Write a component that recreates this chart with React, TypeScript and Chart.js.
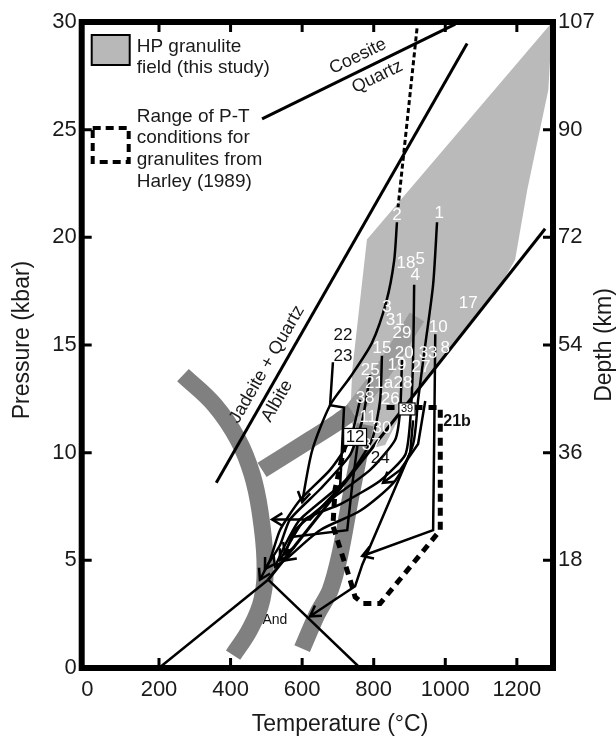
import React, { useEffect, useRef } from "react";
import { Chart, registerables } from "chart.js";

Chart.register(...registerables);

const FF = "'Liberation Sans', Arial, Helvetica, sans-serif";

// ---- axes ----
const xTicks = [0, 200, 400, 600, 800, 1000, 1200];
const pTicks = [0, 5, 10, 15, 20, 25, 30];
const depthTicks = [5, 10, 15, 20, 25, 30];
const depthLabels = ["18", "36", "54", "72", "90", "107"];

// ---- HP granulite field (T °C, P kbar) ----
const fieldT = [781, 1299, 1288, 1229, 1195, 1155, 902, 870, 832, 776, 734, 740, 762, 781];
const fieldP = [19.9, 30, 26.85, 22.2, 18.95, 17.8, 12.45, 11.6, 10.36, 10.13, 11.52, 13.84, 17.09, 19.9];

// ---- dark grey bands ----
const bandLT = [267, 356, 421, 460, 482, 496, 488, 454, 407];
const bandLP = [13.6, 12.2, 10.6, 9.0, 7.3, 5.0, 3.2, 1.8, 0.6];
const bandBT = [488, 622, 698, 740];
const bandBP = [9.2, 10.6, 11.4, 11.9];
const bandB2T = [740, 826, 921];
const bandB2P = [11.9, 13.8, 16.3];
const bandRT = [776, 734, 706, 678, 642, 600];
const bandRP = [11.3, 7.8, 5.3, 3.6, 2.5, 0.9];

// ---- reaction lines ----
const coesiteT = [488, 1028];
const coesiteP = [25.5, 29.9];
const jadeiteT = [360, 1061];
const jadeiteP = [8.6, 29.0];
const kyAndT = [200, 505];
const kyAndP = [0, 4.1];
const andSilT = [505, 762];
const andSilP = [4.1, 0];
const kySilT = [505, 1279];
const kySilP = [4.1, 20.4];
const dashTopT = [921, 868];
const dashTopP = [29.7, 21.4];

// ---- P-T paths ----
const path1T = [977, 966, 944, 924, 910, 860, 762, 650, 552];
const path1P = [20.7, 17.8, 15.0, 12.45, 10.4, 8.7, 7.3, 6.4, 5.0];
const path2T = [865, 857, 835, 795, 734, 678, 628, 600];
const path2P = [20.7, 18.9, 17.0, 15.1, 13.5, 12.2, 10.1, 7.7];
const path23T = [686, 678, 717, 706, 622, 516];
const path23P = [14.2, 12.2, 12.1, 8.4, 6.9, 6.9];
const path4T = [913, 910, 902, 888, 818, 706, 608, 538];
const path4P = [17.8, 14.3, 11.5, 9.9, 8.7, 7.6, 6.9, 5.0];
const path10T = [972, 969, 966, 768];
const path10P = [15.5, 10.6, 6.4, 5.2];
const path6T = [910, 902, 768, 748, 622];
const path6P = [11.5, 10.0, 4.8, 3.8, 2.4];
const path24T = [944, 924, 874, 826];
const path24P = [12.4, 10.4, 9.2, 8.6];
const path15T = [823, 818, 795, 720, 594, 552, 524];
const path15P = [14.5, 12.45, 10.6, 8.7, 6.9, 5.7, 4.7];
const path25T = [790, 768, 734, 650, 566, 538, 496];
const path25P = [13.6, 11.5, 9.9, 8.3, 6.9, 5.7, 4.6];
const path38T = [762, 734, 678, 594, 538, 510, 482];
const path38P = [12.45, 10.6, 9.2, 7.8, 6.4, 5.0, 4.1];
const path20T = [879, 874, 860, 790, 678, 580, 552];
const path20P = [14.3, 12.0, 10.6, 9.2, 7.8, 6.4, 5.3];
const path12T = [575, 726, 740, 755];
const path12P = [6.1, 6.4, 8.5, 10.4];
const path21bT = [720, 692, 686, 734, 748, 770, 818, 986, 986, 818];
const path21bP = [10.4, 8.3, 6.6, 4.1, 3.3, 3.0, 3.0, 6.4, 12.1, 12.1];

// ---- sample labels ----
const whiteLabels = ["2", "1", "18", "5", "4", "17", "3", "31", "29", "10", "15", "20", "33", "8", "25", "19", "27", "21a", "28", "38", "26", "11", "30", "37"];
const whiteT = [865, 983, 890, 930, 916, 1064, 837, 860, 879, 980, 823, 885, 952, 1000, 790, 865, 932, 815, 882, 776, 846, 784, 823, 793];
const whiteP = [21.0, 21.1, 18.8, 19.0, 18.25, 16.95, 16.77, 16.16, 15.56, 15.84, 14.86, 14.63, 14.63, 14.86, 13.84, 14.07, 13.98, 13.24, 13.24, 12.54, 12.49, 11.66, 11.15, 10.36];
const darkLabels = ["22", "23", "24"];
const darkT = [714, 714, 818];
const darkP = [15.47, 14.49, 9.75];
const boxLabels = ["12", "39"];
const boxT = [748, 893];
const boxP = [10.73, 12.03];

function pts(T: number[], P: number[]) {
  return T.map((t, i) => ({ x: t, y: P[i] }));
}

function ln(T: number[], P: number[], extra: any = {}) {
  return {
    type: "line",
    data: pts(T, P),
    borderColor: "#000",
    borderWidth: 2.5,
    pointRadius: 0,
    fill: false,
    tension: 0,
    order: 10,
    ...extra,
  };
}

const overlayPlugin = {
  id: "overlay",
  afterDatasetsDraw(chart: any) {
    const { ctx } = chart;
    const xs = chart.scales.x;
    const ys = chart.scales.y;
    const X = (v: number) => xs.getPixelForValue(v);
    const Y = (v: number) => ys.getPixelForValue(v);
    ctx.save();
    // arrowheads
    chart.data.datasets.forEach((ds: any, i: number) => {
      if (!ds.arrow) return;
      const el = chart.getDatasetMeta(i).data;
      const p1 = el[el.length - 1];
      const p0 = el[el.length - 2];
      const ang = Math.atan2(p1.y - p0.y, p1.x - p0.x);
      const L = 12;
      const w = 0.55;
      ctx.beginPath();
      ctx.moveTo(p1.x - L * Math.cos(ang - w), p1.y - L * Math.sin(ang - w));
      ctx.lineTo(p1.x, p1.y);
      ctx.lineTo(p1.x - L * Math.cos(ang + w), p1.y - L * Math.sin(ang + w));
      ctx.lineWidth = 2.5;
      ctx.strokeStyle = "#000";
      ctx.lineJoin = "miter";
      ctx.setLineDash([]);
      ctx.stroke();
    });
    const txt = (s: string, x: number, y: number, font: string, color: string, rot = 0) => {
      ctx.save();
      ctx.translate(x, y);
      ctx.rotate((rot * Math.PI) / 180);
      ctx.font = font;
      ctx.fillStyle = color;
      ctx.textAlign = "center";
      ctx.textBaseline = "middle";
      ctx.fillText(s, 0, 0);
      ctx.restore();
    };
    whiteLabels.forEach((s, i) => txt(s, X(whiteT[i]), Y(whiteP[i]), `17px ${FF}`, "#ffffff"));
    darkLabels.forEach((s, i) => txt(s, X(darkT[i]), Y(darkP[i]), `17px ${FF}`, "#111"));
    txt("21b", X(1033), Y(11.43), `bold 16px ${FF}`, "#111");
    boxLabels.forEach((s, i) => {
      const small = s === "39";
      const f = small ? `11px ${FF}` : `17px ${FF}`;
      ctx.font = f;
      const w = ctx.measureText(s).width + 4;
      const h = small ? 12 : 17;
      const x = X(boxT[i]);
      const y = Y(boxP[i]);
      ctx.fillStyle = "#fff";
      ctx.fillRect(x - w / 2, y - h / 2, w, h);
      ctx.strokeStyle = "#000";
      ctx.lineWidth = 1.2;
      ctx.strokeRect(x - w / 2, y - h / 2, w, h);
      txt(s, x, y + 0.5, f, "#111");
    });
    txt("And", X(524), Y(2.23), `14px ${FF}`, "#111");
    txt("Coesite", X(756), Y(28.4), `18px ${FF}`, "#1a1a1a", -26);
    txt("Quartz", X(810), Y(27.45), `18px ${FF}`, "#1a1a1a", -26);
    txt("Jadeite + Quartz", X(502), Y(14.1), `18px ${FF}`, "#1a1a1a", -60);
    txt("Albite", X(530), Y(12.4), `18px ${FF}`, "#1a1a1a", -60);
    ctx.restore();
  },
  afterDraw(chart: any) {
    const { ctx, chartArea: a } = chart;
    const xs = chart.scales.x;
    const ys = chart.scales.y;
    ctx.save();
    ctx.setLineDash([]);
    ctx.strokeStyle = "#000";
    // ticks (inward)
    ctx.lineWidth = 3;
    xTicks.forEach((v) => {
      if (v === 0) return;
      const x = xs.getPixelForValue(v);
      ctx.beginPath();
      ctx.moveTo(x, a.bottom);
      ctx.lineTo(x, a.bottom - 10);
      ctx.moveTo(x, a.top);
      ctx.lineTo(x, a.top + 10);
      ctx.stroke();
    });
    pTicks.forEach((v) => {
      if (v === 0 || v === 30) return;
      const y = ys.getPixelForValue(v);
      ctx.beginPath();
      ctx.moveTo(a.left, y);
      ctx.lineTo(a.left + 10, y);
      ctx.moveTo(a.right, y);
      ctx.lineTo(a.right - 10, y);
      ctx.stroke();
    });
    // frame
    ctx.lineWidth = 6;
    ctx.lineJoin = "miter";
    ctx.strokeRect(a.left, a.top, a.right - a.left, a.bottom - a.top);

    // legend
    const lx = a.left + 10;
    ctx.fillStyle = "#b8b8b8";
    ctx.fillRect(lx, a.top + 13, 38, 30);
    ctx.lineWidth = 2;
    ctx.strokeRect(lx, a.top + 13, 38, 30);
    ctx.lineWidth = 4;
    ctx.setLineDash([8, 5]);
    ctx.strokeRect(lx + 1, a.top + 106, 36, 34);
    ctx.setLineDash([]);
    ctx.font = `19px ${FF}`;
    ctx.fillStyle = "#1a1a1a";
    ctx.textAlign = "left";
    ctx.textBaseline = "middle";
    const tx = lx + 45;
    ctx.fillText("HP granulite", tx, a.top + 25);
    ctx.fillText("field (this study)", tx, a.top + 46);
    ctx.fillText("Range of P-T", tx, a.top + 95);
    ctx.fillText("conditions for", tx, a.top + 116);
    ctx.fillText("granulites from", tx, a.top + 138);
    ctx.fillText("Harley (1989)", tx, a.top + 160);

    // axis titles
    const title = (s: string, x: number, y: number, rot: number) => {
      ctx.save();
      ctx.translate(x, y);
      ctx.rotate((rot * Math.PI) / 180);
      ctx.font = `23px ${FF}`;
      ctx.fillStyle = "#1a1a1a";
      ctx.textAlign = "center";
      ctx.textBaseline = "middle";
      ctx.fillText(s, 0, 0);
      ctx.restore();
    };
    title("Pressure (kbar)", 23, (a.top + a.bottom) / 2 - 5, -90);
    title("Depth (km)", 605, (a.top + a.bottom) / 2, -90);
    title("Temperature (°C)", 340, 725, 0);
    ctx.restore();
  },
};

export default function App() {
  const ref = useRef<HTMLCanvasElement | null>(null);
  useEffect(() => {
    if (!ref.current) return;
    const tickFont = { family: FF, size: 22 };
    const datasets: any[] = [
      {
        type: "line",
        data: pts(fieldT, fieldP),
        borderColor: "rgba(0,0,0,0)",
        borderWidth: 0,
        backgroundColor: "#bababa",
        fill: "shape",
        pointRadius: 0,
        tension: 0,
        order: 100,
      },
      ln(bandLT, bandLP, { borderColor: "#808080", borderWidth: 17, tension: 0.4, borderCapStyle: "butt", order: 90 }),
      ln(bandBT, bandBP, { borderColor: "#828282", borderWidth: 17, tension: 0.3, borderCapStyle: "butt", order: 91 }),
      ln(bandB2T, bandB2P, { borderColor: "#9c9c9c", borderWidth: 17, tension: 0.3, borderCapStyle: "butt", order: 92 }),
      ln(bandRT, bandRP, { borderColor: "#808080", borderWidth: 17, tension: 0.3, borderCapStyle: "butt", order: 90 }),
      ln(coesiteT, coesiteP, { borderWidth: 3, order: 20 }),
      ln(jadeiteT, jadeiteP, { borderWidth: 3, order: 20 }),
      ln(kyAndT, kyAndP, { borderWidth: 2.5, order: 20 }),
      ln(andSilT, andSilP, { borderWidth: 2.5, order: 20 }),
      ln(kySilT, kySilP, { borderWidth: 3, order: 20 }),
      ln(dashTopT, dashTopP, { borderWidth: 3, borderDash: [5, 3], order: 20 }),
      ln(path1T, path1P, { tension: 0.25, arrow: true }),
      ln(path2T, path2P, { tension: 0.25, arrow: true }),
      ln(path23T, path23P, { arrow: true }),
      ln(path4T, path4P, { tension: 0.2, arrow: true }),
      ln(path10T, path10P, { arrow: true }),
      ln(path6T, path6P, { arrow: true }),
      ln(path24T, path24P, { arrow: true }),
      ln(path15T, path15P, { tension: 0.2, arrow: true }),
      ln(path25T, path25P, { tension: 0.2, arrow: true }),
      ln(path38T, path38P, { tension: 0.2, arrow: true }),
      ln(path20T, path20P, { tension: 0.2, arrow: true }),
      ln(path12T, path12P, {}),
      ln(path21bT, path21bP, { borderWidth: 5, borderDash: [8, 6], order: 9 }),
    ];
    const chart = new Chart(ref.current, {
      type: "line",
      data: { datasets },
      options: {
        responsive: false,
        animation: false,
        events: [],
        layout: { padding: { top: 22, left: 0, right: 0, bottom: 0 } },
        plugins: { legend: { display: false }, tooltip: { enabled: false } },
        elements: { point: { radius: 0 } },
        scales: {
          x: {
            type: "linear",
            position: "bottom",
            min: -16,
            max: 1301,
            grid: { display: false, drawTicks: false },
            border: { display: false },
            ticks: {
              font: tickFont,
              color: "#1a1a1a",
              padding: 9,
              maxRotation: 0,
              callback: (v: any) => String(v),
            },
            afterBuildTicks: (s: any) => {
              s.ticks = xTicks.map((v) => ({ value: v }));
            },
            afterFit: (s: any) => {
              s.height = 72;
            },
          },
          y: {
            type: "linear",
            position: "left",
            min: 0,
            max: 30,
            grid: { display: false, drawTicks: false },
            border: { display: false },
            ticks: { font: tickFont, color: "#1a1a1a", padding: 5, callback: (v: any) => String(v) },
            afterBuildTicks: (s: any) => {
              s.ticks = pTicks.map((v) => ({ value: v }));
            },
            afterFit: (s: any) => {
              s.width = 81.7;
            },
          },
          y1: {
            type: "linear",
            position: "right",
            min: 0,
            max: 30,
            grid: { display: false, drawTicks: false },
            border: { display: false },
            ticks: {
              font: tickFont,
              color: "#1a1a1a",
              padding: 5,
              callback: (v: any) => {
                const k = depthTicks.indexOf(Number(v));
                return k >= 0 ? depthLabels[k] : "";
              },
            },
            afterBuildTicks: (s: any) => {
              s.ticks = depthTicks.map((v) => ({ value: v }));
            },
            afterFit: (s: any) => {
              s.width = 63;
            },
          },
        },
      } as any,
      plugins: [overlayPlugin],
    } as any);
    return () => chart.destroy();
  }, []);
  return (
    <div style={{ position: "absolute", left: 0, top: 0, width: 616, height: 740, background: "#fff" }}>
      <canvas ref={ref} width={616} height={740} />
    </div>
  );
}
